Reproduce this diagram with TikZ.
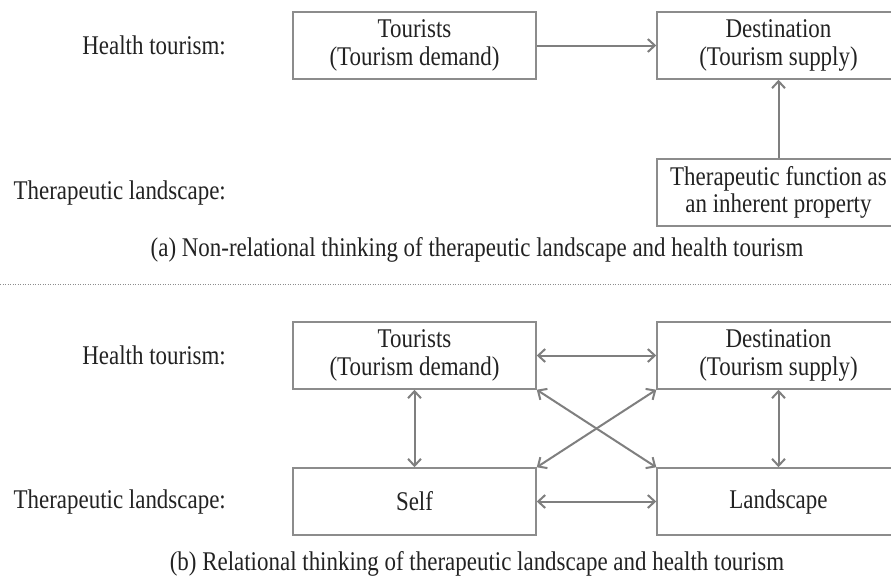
\documentclass[tikz,border=0pt]{standalone}
\usepackage{fontspec}
\setmainfont{Liberation Serif}[FakeStretch=0.85]
\usetikzlibrary{arrows.meta}
\definecolor{linegray}{HTML}{8C8C8C}
\definecolor{arrgray}{HTML}{7F7F7F}
\definecolor{txt}{HTML}{222222}
\tikzset{
  box/.style={draw=linegray, line width=1.5pt, minimum width=243pt, minimum height=67pt,
    inner sep=0pt, align=center, text=txt, font=\fontsize{27}{27.5}\selectfont},
  lbl/.style={anchor=east, inner sep=0pt, text=txt, font=\fontsize{27}{27}\selectfont},
  captxt/.style={inner sep=0pt, text=txt, font=\fontsize{27}{27}\selectfont},
  conn/.style={draw=arrgray, line width=2pt},
  tip/.style={-{Straight Barb[length=7pt,width=13pt]}},
  tips/.style={{Straight Barb[length=7pt,width=13pt]}-{Straight Barb[length=7pt,width=13pt]}},
}
\begin{document}
\begin{tikzpicture}[x=1pt,y=-1pt]
\clip (0,0) rectangle (891,579);
\fill[white] (0,0) rectangle (891,579);
% (a)
\node[lbl] (ha) at (226,45.5) {Health tourism:};
\node[lbl] (ta) at (226,193) {Therapeutic landscape:};
\node[box] (Ta) at (414.5,45.5) {Tourists\\(Tourism demand)};
\node[box] (Da) at (778.5,45.5) {Destination\\(Tourism supply)};
\node[box] (Fa) at (778.5,192.5) {Therapeutic function as\\an inherent property};
\draw[conn,tip] (Ta.east) -- (Da.west);
\draw[conn,tip] (Fa.north) -- (Da.south);
\node[captxt] (capa) at (477,250) {(a) Non-relational thinking of therapeutic landscape and health tourism};
% separator
\coordinate (dl) at (0,284.5);
\coordinate (dr) at (891,284.5);
\draw[linegray, line width=1pt, dash pattern=on 1pt off 1.5pt] (dl) -- (dr);
% (b)
\node[lbl] (hb) at (226,355.5) {Health tourism:};
\node[lbl] (tb) at (226,502) {Therapeutic landscape:};
\node[box] (Tb) at (414.5,355.5) {Tourists\\(Tourism demand)};
\node[box] (Db) at (778.5,355.5) {Destination\\(Tourism supply)};
\node[box] (Sb) at (414.5,501.5) {Self};
\node[box] (Lb) at (778.5,501.5) {Landscape};
\draw[conn,tips] (Tb.east) -- (Db.west);
\draw[conn,tips] (Sb.east) -- (Lb.west);
\draw[conn,tips] (Tb.south) -- (Sb.north);
\draw[conn,tips] (Db.south) -- (Lb.north);
\draw[conn,tips] (Tb.south east) -- (Lb.north west);
\draw[conn,tips] (Db.south west) -- (Sb.north east);
\node[captxt] (capb) at (477,564) {(b) Relational thinking of therapeutic landscape and health tourism};
\end{tikzpicture}
\end{document}
